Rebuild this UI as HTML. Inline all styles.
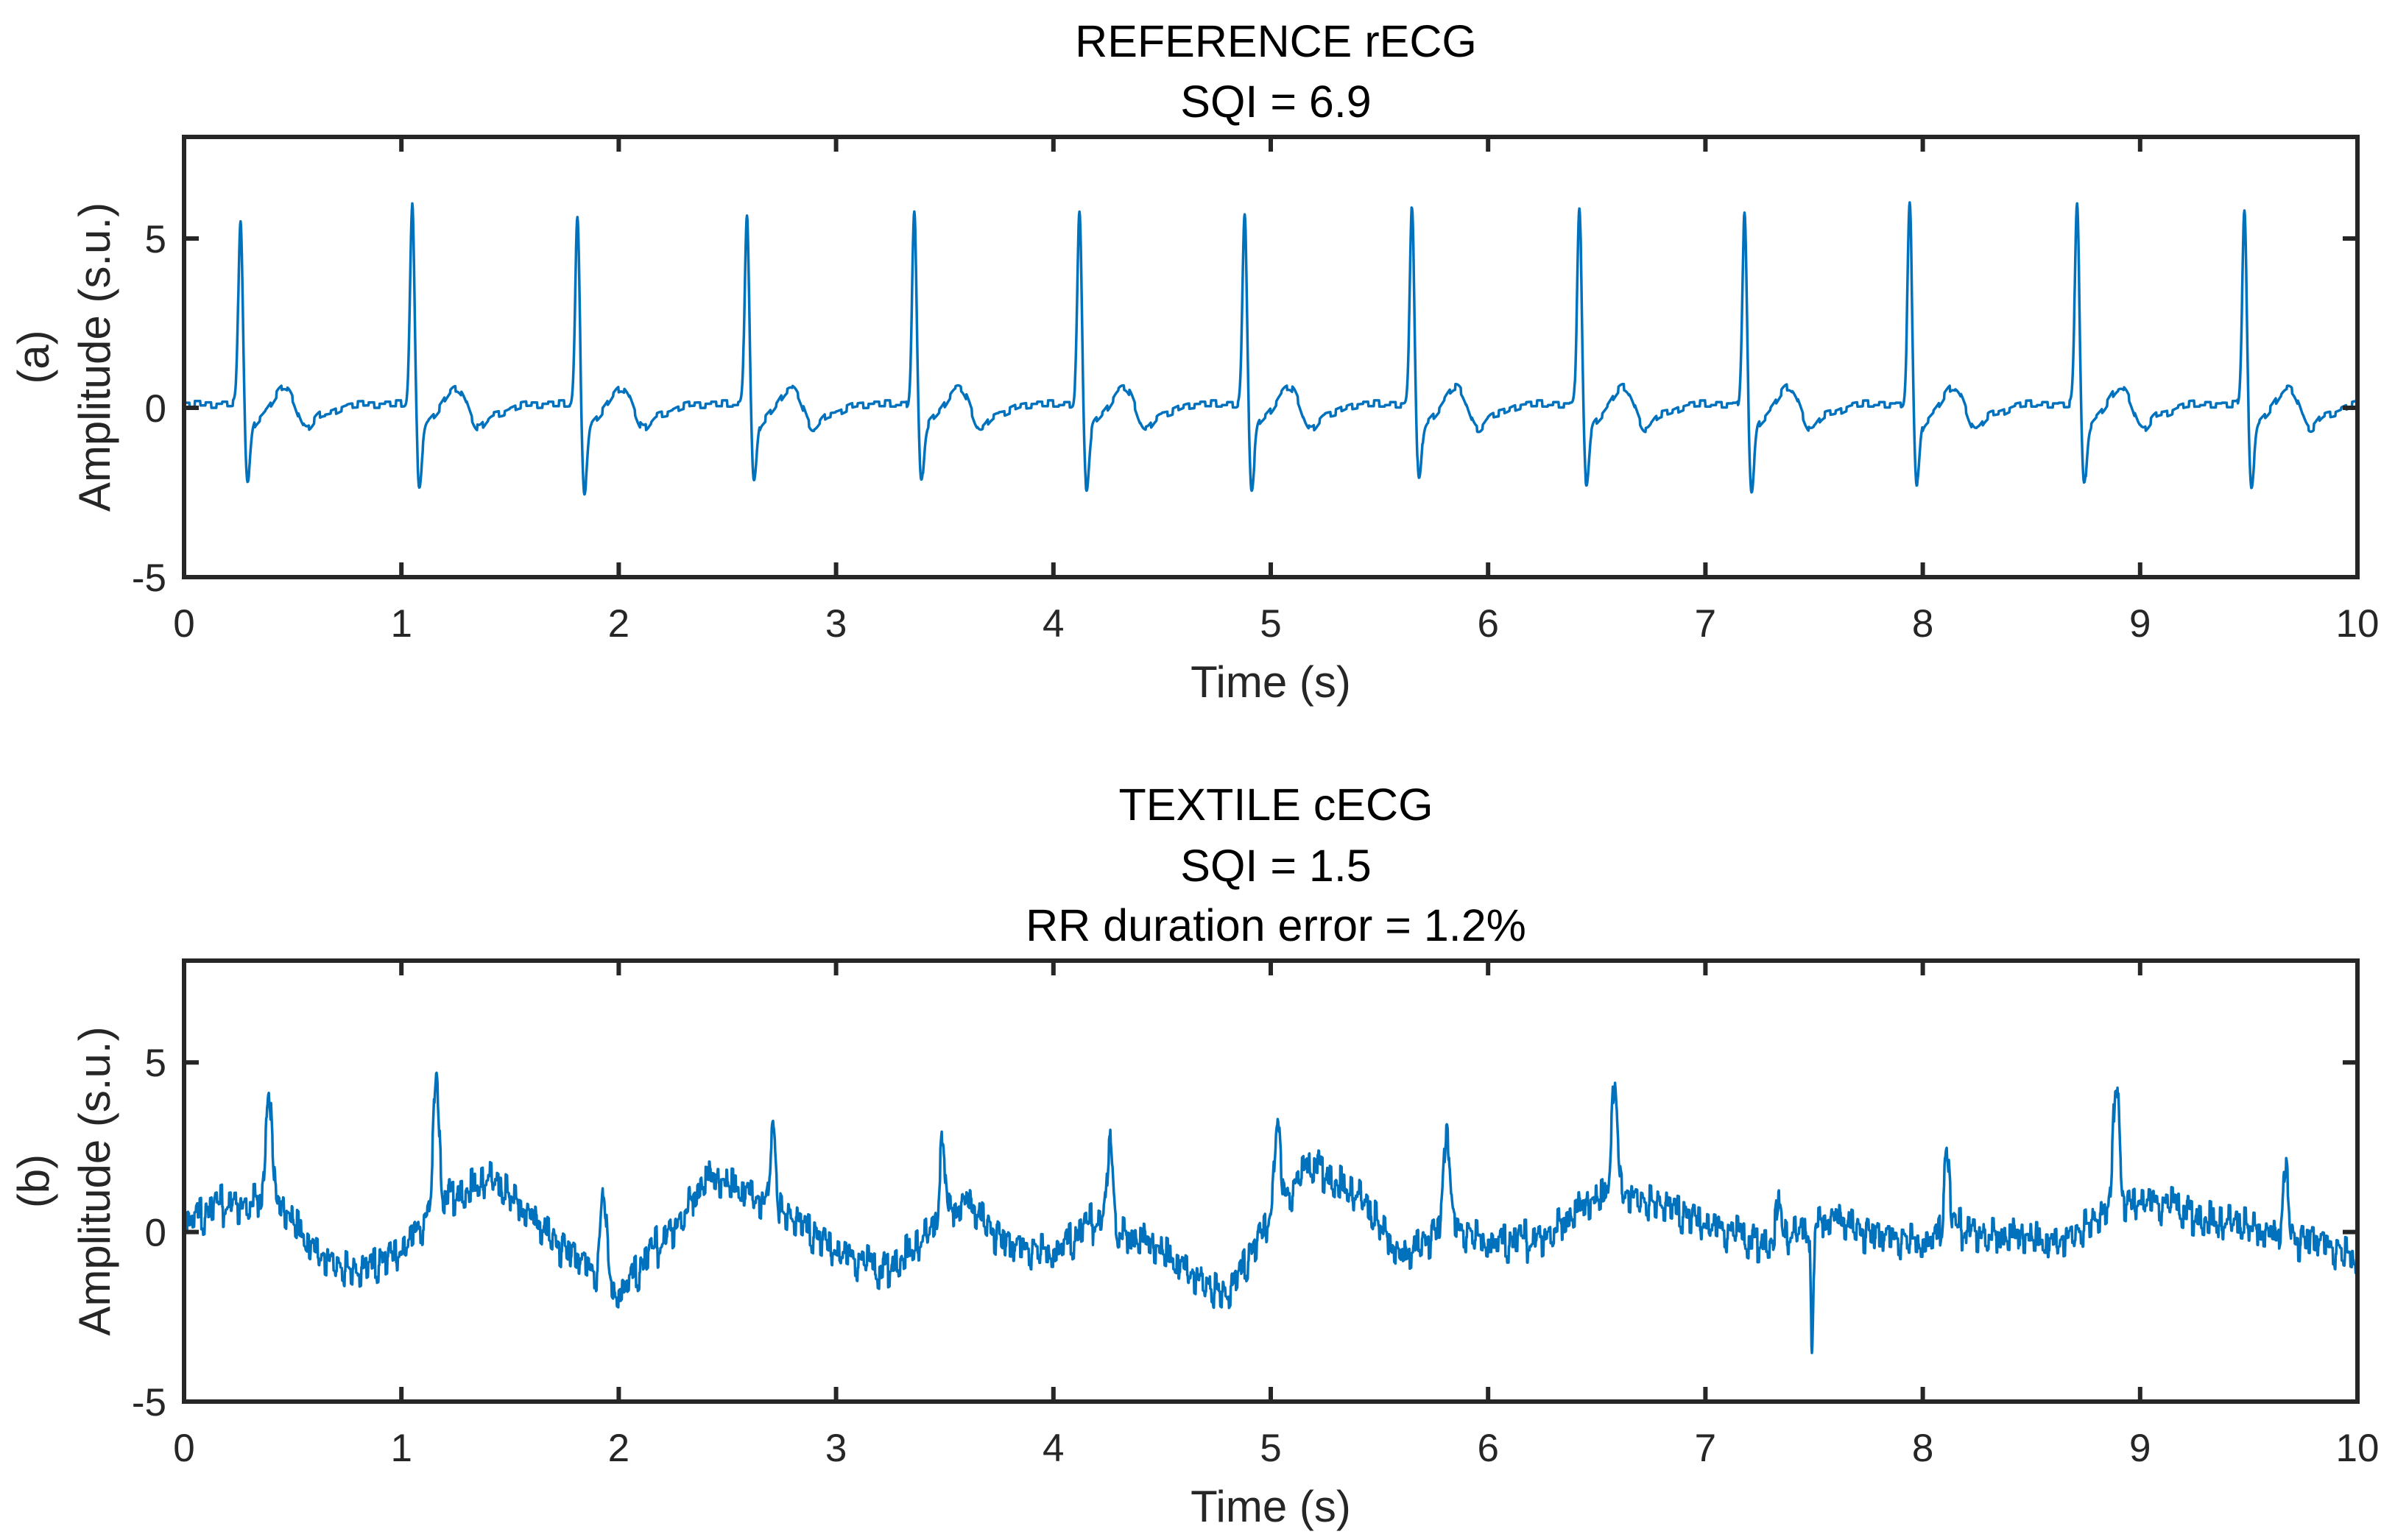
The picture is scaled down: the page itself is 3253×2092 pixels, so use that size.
<!DOCTYPE html>
<html><head><meta charset="utf-8"><style>
html,body{margin:0;padding:0;background:#fff;}
svg{display:block;font-family:"Liberation Sans",Arial,sans-serif;}
</style></head><body>
<svg id="chart" width="3253" height="2092" viewBox="0 0 3253 2092" xmlns="http://www.w3.org/2000/svg">
<rect width="3253" height="2092" fill="#fff"/>
<g id="root"></g>
</svg>
<script>
// ---- data ----
const xTicks = [0,1,2,3,4,5,6,7,8,9,10];
const yTicks = [-5,0,5];
// top: reference rECG beats
const refBeatTimes = [0.26,1.05,1.81,2.59,3.36,4.12,4.88,5.65,6.42,7.18,7.94,8.71,9.48];
const refBeatPeaks = [5.5,5.9,5.5,5.7,5.7,5.7,5.6,5.9,5.9,5.6,5.9,6.0,5.7];
const refBeatTroughs = [-2.3,-2.4,-2.6,-2.3,-2.3,-2.5,-2.5,-2.3,-2.4,-2.6,-2.4,-2.4,-2.4];
// bottom: textile cECG
const texBeatTimes = [0.39,1.16,1.93,2.71,3.49,4.26,5.03,5.81,6.58,7.34,8.11,8.89,9.67];
const texBeatPeaks = [4.1,4.5,3.6,3.3,3.1,3.7,3.5,3.7,4.1,2.0,3.3,5.0,2.8];
const texBaseline = [0.3,0.8,1.0,-0.5,-1.3,-0.5,1.0,1.5,0.5,-0.8,-1.8,-0.3,1.5,1.2,0.3,-0.5,-1.2,-0.3,1.0,-0.5,-0.6,0.3,-0.3,-1.0,-2.0,0.5,2.0,1.0,-0.7,0.2,-0.3,-0.3,0.5,1.3,0.7,0.3,-0.3,-0.2,0.5,-0.2,-0.3,0.1,-0.2,-0.3,0.3,1.0,0.6,0.2,0.0,-0.3,-0.8];
const texNoise = [0.2,-0.4,0.5,-0.1,0.3,-0.6,0.1,0.4,-0.3,0.6,-0.2,-0.5,0.3,0.1,-0.4,0.5,-0.6,0.2,0.4,-0.1,-0.3,0.6,-0.5,0.1,0.3,-0.2,0.5,-0.4,-0.1,0.2,0.4,-0.6,0.3,-0.2,0.1,0.5,-0.3,-0.5,0.2,0.0,0.4,-0.2,-0.4,0.6,-0.1,0.2,-0.5,0.3,0.1,-0.3];
const artifactTimes = [7.49];
const artifactValues = [-3.8];
const refNoise = [0.05,-0.08,0.1,-0.03,0.06,-0.1,0.02,0.08,-0.05,0.12,-0.06,-0.02,0.07,-0.09,0.03];

// ---- layout ----
const L=250,R=3202;
const panels=[{top:186,bot:784,tag:'a'},{top:1305,bot:1904,tag:'b'}];
const NS='http://www.w3.org/2000/svg';
const root=document.getElementById('root');
function el(t,a,p){const e=document.createElementNS(NS,t);for(const k in a)e.setAttribute(k,a[k]);(p||root).appendChild(e);return e;}
const g=(x,mu,s)=>Math.exp(-0.5*((x-mu)/s)**2);

function refSignal(t){
  let v=0.1+refNoise[Math.floor(t*40)%refNoise.length];
  for(let i=0;i<refBeatTimes.length;i++){
    const d=t-refBeatTimes[i];
    if(d<-0.3||d>0.6)continue;
    v+=refBeatPeaks[i]*g(d,0,0.010);
    v+=(refBeatTroughs[i])*g(d,0.032,0.011);
    if(d>0.03) v+=-0.9*Math.exp(-(d-0.03)/0.08)*(1-g(d,0.032,0.011));
    v+=0.6*g(d,0.2,0.045);
    v+=-0.7*g(d,0.3,0.035);
    v+=-0.25*g(d,0.4,0.05);
  }
  return v;
}
function texSignal(t){
  const bi=t/0.2, i0=Math.min(Math.floor(bi),texBaseline.length-2), f=bi-i0;
  let v=texBaseline[i0]*(1-f)+texBaseline[i0+1]*f;
  const k=Math.floor(t/0.008);
  v+=texNoise[k%texNoise.length]*0.6+texNoise[(Math.floor(t/0.02)*7+3)%texNoise.length]*0.5;
  for(let i=0;i<texBeatTimes.length;i++){
    const d=t-texBeatTimes[i];
    if(d<-0.2||d>0.3)continue;
    v+=(texBeatPeaks[i]-0.9)*g(d,0,0.013);
  }
  for(let i=0;i<artifactTimes.length;i++){v+=artifactValues[i]*g(t-artifactTimes[i],0,0.006);}
  return v;
}

panels.forEach((p,pi)=>{
  const xs=x=>L+(x-0)/(10-0)*(R-L);
  const ys=y=>p.bot-(y+5)/13*(p.bot-p.top);
  const grp=el('g',{});
  
  
  const fn=pi===0?refSignal:texSignal;
  let d='';
  for(let i=0;i<=5000;i++){const t=i*0.002;d+=(i?'L':'M')+xs(t).toFixed(1)+' '+ys(fn(t)).toFixed(1);}
  const path=el('path',{d:d,fill:'none',stroke:'#0072BD','stroke-width':3.5,'stroke-linejoin':'round'},grp);
  
  
  const box=el('rect',{x:L,y:p.top,width:R-L,height:p.bot-p.top,fill:'none',stroke:'#262626','stroke-width':6},grp);
  
  
  xTicks.forEach(v=>{
    const x=xs(v);
    el('line',{x1:x,y1:p.bot,x2:x,y2:p.bot-20,stroke:'#262626','stroke-width':6},grp);
    el('line',{x1:x,y1:p.top,x2:x,y2:p.top+20,stroke:'#262626','stroke-width':6},grp);
    const tx=el('text',{x:x,y:p.bot+81,'font-size':53,'text-anchor':'middle',fill:'#262626'},grp);
    tx.textContent=v;
    
    
  });
  yTicks.forEach(v=>{
    const y=ys(v);
    el('line',{x1:L,y1:y,x2:L+20,y2:y,stroke:'#262626','stroke-width':6},grp);
    el('line',{x1:R,y1:y,x2:R-20,y2:y,stroke:'#262626','stroke-width':6},grp);
    const ty=el('text',{x:226,y:y+19,'font-size':53,'text-anchor':'end',fill:'#262626'},grp);
    ty.textContent=v;
    
    
  });
  const xl=el('text',{x:1726,y:p.bot+163,'font-size':60,'text-anchor':'middle',fill:'#262626'},grp);
  xl.textContent='Time (s)';
  
  
  const cy=(p.top+p.bot)/2;
  const yl=el('text',{transform:`translate(0,${cy}) rotate(-90)`,'font-size':60,'text-anchor':'middle',fill:'#262626'},grp);
  
  
  const t1=el('tspan',{x:0,y:66},yl);t1.textContent='('+p.tag+')';
  const t2=el('tspan',{x:0,y:149},yl);t2.textContent='Amplitude (s.u.)';
});
const titles=[[56,'REFERENCE rECG'],[138,'SQI = 6.9'],[1093,'TEXTILE cECG'],[1176,'SQI = 1.5'],[1257,'RR duration error = 1.2%']];
titles.forEach((tt,i)=>{
  const t=el('text',{x:1733,y:tt[0]+21,'font-size':61,'text-anchor':'middle',fill:'#000'});
  t.textContent=tt[1];
  
  
});
</script>
</body></html>
